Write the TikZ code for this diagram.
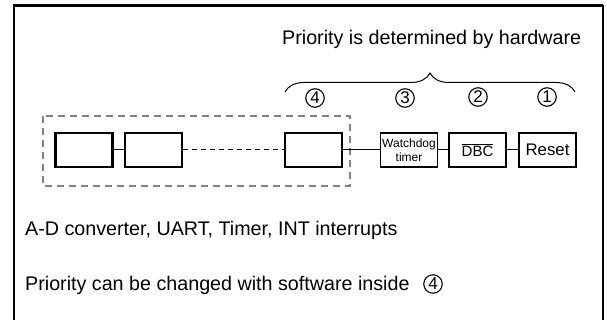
\documentclass[tikz,border=0pt]{standalone}
\usepackage{fontspec}
\setmainfont{Liberation Sans}
\usetikzlibrary{decorations.pathreplacing}
\newcommand{\prioMark}[1]{\fontsize{17}{17}\selectfont #1}
\newcommand{\textSize}[0]{\fontsize{19.7}{24}\selectfont}

\begin{document}
\begin{tikzpicture}[x=1pt, y=-1pt]
  \tikzset{srcbox/.style={draw, line width=2.2pt, minimum width=57pt, minimum height=34pt, inner sep=0pt},
    prio/.style={draw, circle, line width=1.1pt, minimum size=18.5pt, inner sep=0pt},
    link/.style={line width=1pt}}
  \useasboundingbox (0,0) rectangle (607,320);
  \draw[line width=2.5pt] (14,320) -- (14,5.5) -- (603,5.5);
  \draw[line width=1.2pt] (603,5.5) -- (603,320);
  \node[anchor=base west, inner sep=0pt] (hwtitle) at (282,45) {\textSize Priority is determined by hardware};
  \draw[line width=1pt, decorate, decoration={brace, amplitude=19pt}] (285,92) -- (575,92);
  \node[prio] (p4) at (315,98) {\prioMark{4}};
  \node[prio] (p3) at (405,98) {\prioMark{3}};
  \node[prio] (p2) at (478,97) {\prioMark{2}};
  \node[prio] (p1) at (547,97) {\prioMark{1}};
  \draw[gray, line width=1.8pt, dash pattern=on 7pt off 5pt] (43,116) rectangle (350,186);
  \node[srcbox] (blkA) at (84,150) {};
  \node[srcbox] (blkB) at (153.5,150) {};
  \node[srcbox] (blkC) at (313.5,150) {};
  \node[srcbox, line width=1.6pt, align=center, font=\fontsize{12}{13.5}\selectfont] (wdt) at (409,150) {Watchdog\\timer};
  \node[srcbox, font=\fontsize{15}{15}\selectfont] (dbc) at (477.5,150) {$\overline{\mbox{DBC}}$};
  \node[srcbox, font=\fontsize{16.8}{17}\selectfont] (rst) at (547.5,150) {Reset};
  \draw[link] (blkA) -- (blkB);
  \draw[link, dash pattern=on 5pt off 4pt] (blkB) -- (blkC);
  \draw[link] (blkC) -- (wdt);
  \draw[link] (wdt) -- (dbc);
  \draw[link] (dbc) -- (rst);
  \node[anchor=base west, inner sep=0pt] (swlist) at (25,236) {\textSize A-D converter, UART, Timer, INT interrupts};
  \node[anchor=base west, inner sep=0pt] (swnote) at (25,290) {\textSize Priority can be changed with software inside};
  \node[prio] (p4b) at (433,284) {\prioMark{4}};
\end{tikzpicture}
\end{document}
